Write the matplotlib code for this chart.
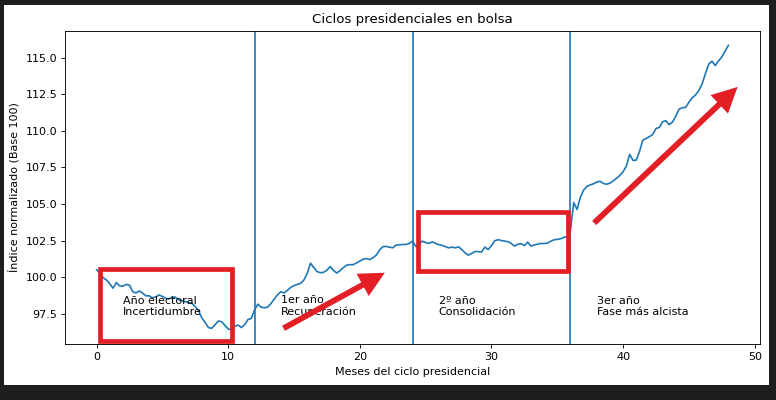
import numpy as np
import matplotlib
matplotlib.use("Agg")
import matplotlib.pyplot as plt
from matplotlib.patches import Rectangle

# Índice normalizado, un valor por semana (cada 0.25 meses) de cada año del ciclo
anio_electoral = [100.50, 100.30, 99.95, 99.80, 99.55, 99.24, 99.63, 99.40,
                  99.38, 99.50, 99.45, 99.00, 98.92, 99.05, 98.90, 98.72,
                  98.72, 98.58, 98.65, 98.78, 98.68, 98.55, 98.50, 98.65,
                  98.62, 98.44, 98.38, 98.32, 98.25, 98.20, 97.98, 97.70,
                  97.20, 96.90, 96.55, 96.50, 96.75, 97.00, 96.95, 96.70,
                  96.45, 96.40, 96.65, 96.72, 96.55, 96.75, 97.10, 97.17]
primer_anio = [97.75, 98.15, 97.95, 97.90, 97.95, 98.20, 98.50, 98.80,
               99.00, 98.92, 99.10, 99.30, 99.42, 99.50, 99.58, 99.80,
               100.25, 100.95, 100.65, 100.38, 100.30, 100.33, 100.48, 100.72,
               100.45, 100.28, 100.45, 100.65, 100.82, 100.85, 100.85, 100.97,
               101.10, 101.22, 101.27, 101.20, 101.33, 101.50, 101.85, 102.08,
               102.10, 102.05, 102.00, 102.19, 102.21, 102.23, 102.23, 102.30]
segundo_anio = [102.46, 102.10, 102.28, 102.46, 102.36, 102.30, 102.41, 102.30,
                102.22, 102.17, 102.08, 102.00, 102.05, 102.00, 102.07, 101.88,
                101.65, 101.50, 101.62, 101.75, 101.74, 101.72, 102.05, 101.88,
                102.15, 102.48, 102.56, 102.50, 102.46, 102.42, 102.30, 102.12,
                102.25, 102.28, 102.16, 102.39, 102.12, 102.20, 102.25, 102.30,
                102.30, 102.32, 102.45, 102.55, 102.58, 102.62, 102.72, 102.75]
tercer_anio = [103.20, 105.10, 104.62, 105.45, 105.95, 106.20, 106.30, 106.38,
               106.50, 106.55, 106.40, 106.35, 106.42, 106.58, 106.75, 106.95,
               107.20, 107.60, 108.39, 107.98, 108.00, 108.60, 109.36, 109.48,
               109.60, 109.75, 110.16, 110.23, 110.62, 110.69, 110.42, 110.60,
               111.00, 111.48, 111.58, 111.60, 111.95, 112.25, 112.45, 112.75,
               113.20, 113.90, 114.55, 114.76, 114.46, 114.78, 115.05, 115.45,
               115.85]

indice = anio_electoral + primer_anio + segundo_anio + tercer_anio
meses = np.arange(len(indice)) / 4

cambios_de_anio = [12, 24, 36]
etiquetas = ["Año electoral\nIncertidumbre", "1er año\nRecuperación",
             "2º año\nConsolidación", "3er año\nFase más alcista"]
inicio_etiquetas = [0, 12, 24, 36]

# recuadros y flechas rojas (x0, y0, x1, y1) en unidades de datos
recuadros = [(0.28, 95.6, 10.31, 100.53), (24.45, 100.39, 35.84, 104.46)]
flechas = [(14.2, 96.5, 21.9, 100.3), (37.8, 103.7, 48.7, 113.0)]

s = 0.8
plt.rcParams.update({
    "font.size": 10 * s,
    "axes.titlesize": 12 * s,
    "axes.labelsize": 10 * s,
    "xtick.labelsize": 10 * s,
    "ytick.labelsize": 10 * s,
    "axes.linewidth": 0.8 * s,
    "xtick.major.width": 0.8 * s,
    "ytick.major.width": 0.8 * s,
    "xtick.major.size": 3.5 * s,
    "ytick.major.size": 3.5 * s,
    "xtick.major.pad": 3.5 * s,
    "ytick.major.pad": 3.5 * s,
})

fig = plt.figure(figsize=(7.76, 4.0), dpi=100, facecolor="#1e1e1e")
fig.patches.append(Rectangle((4 / 776, 15 / 400), 765 / 776, 380 / 400,
                             transform=fig.transFigure, facecolor="white",
                             edgecolor="none", zorder=-1))
ax = fig.add_axes([65 / 776, 56 / 400, 695 / 776, 313 / 400])

ax.plot(meses, indice, lw=1.5 * s)
for m in cambios_de_anio:
    ax.axvline(m, lw=1.5 * s)

for x0, txt in zip(inicio_etiquetas, etiquetas):
    ax.text(x0 + 2, 98.0, txt, va="center", ha="left")

for x0, y0, x1, y1 in recuadros:
    ax.add_patch(Rectangle((x0, y0), x1 - x0, y1 - y0, fill=False,
                           edgecolor="#e31e24", lw=3.4, clip_on=False, zorder=5))
for x0, y0, x1, y1 in flechas:
    ax.annotate("", xy=(x1, y1), xytext=(x0, y0),
                arrowprops=dict(arrowstyle="simple,head_length=1.3,head_width=1.3,tail_width=0.3",
                                color="#e31e24", lw=0, mutation_scale=14,
                                shrinkA=0, shrinkB=0),
                annotation_clip=False, zorder=5)

ax.set_title("Ciclos presidenciales en bolsa")
ax.set_xlabel("Meses del ciclo presidencial")
ax.set_ylabel("Índice normalizado (Base 100)")

fig.savefig("out.png", dpi=100, facecolor=fig.get_facecolor())
